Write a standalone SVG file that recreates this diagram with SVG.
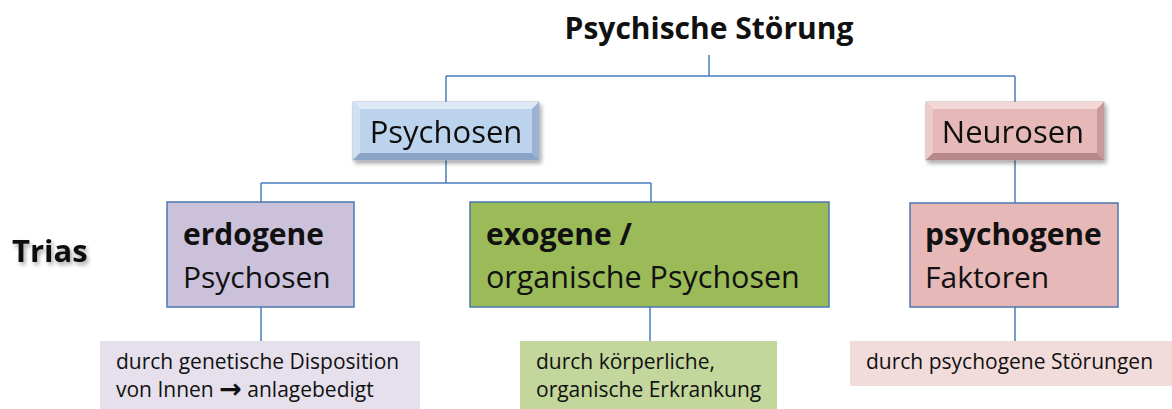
<svg xmlns="http://www.w3.org/2000/svg" width="1172" height="409" viewBox="0 0 1172 409">
<style>
.t{font-family:"Open Sans","Noto Sans",sans-serif;fill:#111}
.b{font-weight:bold}
.n{font-size:21px}
.conn{stroke:#4a7ebb;stroke-width:1.5;fill:none}
.mid{stroke:#4a78b0;stroke-width:1.5}
</style>
<defs>
<filter id="sh" x="-10%" y="-10%" width="130%" height="140%">
<feGaussianBlur in="SourceAlpha" stdDeviation="2"/>
<feOffset dx="2" dy="3" result="o"/>
<feComponentTransfer><feFuncA type="linear" slope="0.35"/></feComponentTransfer>
<feMerge><feMergeNode/><feMergeNode in="SourceGraphic"/></feMerge>
</filter>
</defs>
<rect width="1172" height="409" fill="#fff"/>

<g id="connectors">
<path class="conn" d="M709 55V76M446 76H1015M446 76V102M1015 76V102"/>
<path class="conn" d="M446 160V183M261 183H651M261 183V202M651 183V202"/>
<path class="conn" d="M1015 160V203"/>
<path class="conn" d="M261 307V341M650 307V341M1015 307V341"/>
</g>

<g id="title"><text class="t b" x="709" y="39" font-size="30" text-anchor="middle">Psychische Störung</text></g>

<g id="trias"><text class="t b" x="12" y="262" font-size="31" filter="url(#sh)">Trias</text></g>

<g id="psychosen" filter="url(#sh)">
<rect x="353" y="102" width="186" height="58" fill="#bcd3ee" stroke="#9aaabf" stroke-width="0.8"/>
<polygon points="353,102 539,102 532,109 360,109" fill="#dde9f7"/>
<polygon points="353,102 360,109 360,153 353,160" fill="#cfe0f3"/>
<polygon points="539,102 539,160 532,153 532,109" fill="#9cb3d0"/>
<polygon points="353,160 360,153 532,153 539,160" fill="#8aa4c6"/>
<text class="t" x="446" y="143" font-size="31" text-anchor="middle">Psychosen</text>
</g>

<g id="neurosen" filter="url(#sh)">
<rect x="926" y="102" width="178" height="58" fill="#e6b9b8" stroke="#b09a9a" stroke-width="0.8"/>
<polygon points="926,102 1104,102 1097,109 933,109" fill="#f3d7d6"/>
<polygon points="926,102 933,109 933,153 926,160" fill="#eccccb"/>
<polygon points="1104,102 1104,160 1097,153 1097,109" fill="#c89a99"/>
<polygon points="926,160 933,153 1097,153 1104,160" fill="#b68988"/>
<text class="t" x="1013" y="143" font-size="31" text-anchor="middle">Neurosen</text>
</g>

<g id="erdogene">
<rect class="mid" x="167" y="202" width="187" height="105" fill="#ccc1da"/>
<text class="t b" x="183" y="245" font-size="30">erdogene</text>
<text class="t" x="183" y="288" font-size="30">Psychosen</text>
</g>

<g id="exogene">
<rect class="mid" x="470" y="202" width="359" height="105" fill="#9bbb59"/>
<text class="t b" x="486" y="245" font-size="30">exogene /</text>
<text class="t" x="486" y="288" font-size="30.5">organische Psychosen</text>
</g>

<g id="psychogene">
<rect class="mid" x="910" y="203" width="208" height="104" fill="#e6b9b8"/>
<text class="t b" x="925" y="245" font-size="30">psychogene</text>
<text class="t" x="925" y="288" font-size="30">Faktoren</text>
</g>

<g id="note-erdogene">
<rect x="100" y="341" width="320" height="70" fill="#e5e0ec"/>
<text class="t n" x="116" y="369">durch genetische Disposition</text>
<text class="t n" x="116" y="397">von Innen <tspan font-family="DejaVu Sans" font-weight="bold" font-size="27" dy="1">→</tspan><tspan dy="-1"> anlagebedigt</tspan></text>
</g>

<g id="note-exogene">
<rect x="520" y="341" width="257" height="70" fill="#c3d69b"/>
<text class="t n" x="536" y="369">durch körperliche,</text>
<text class="t n" x="536" y="397">organische Erkrankung</text>
</g>

<g id="note-psychogene">
<rect x="850" y="341" width="322" height="45" fill="#f2dcdb"/>
<text class="t n" x="866" y="369">durch psychogene Störungen</text>
</g>
</svg>
